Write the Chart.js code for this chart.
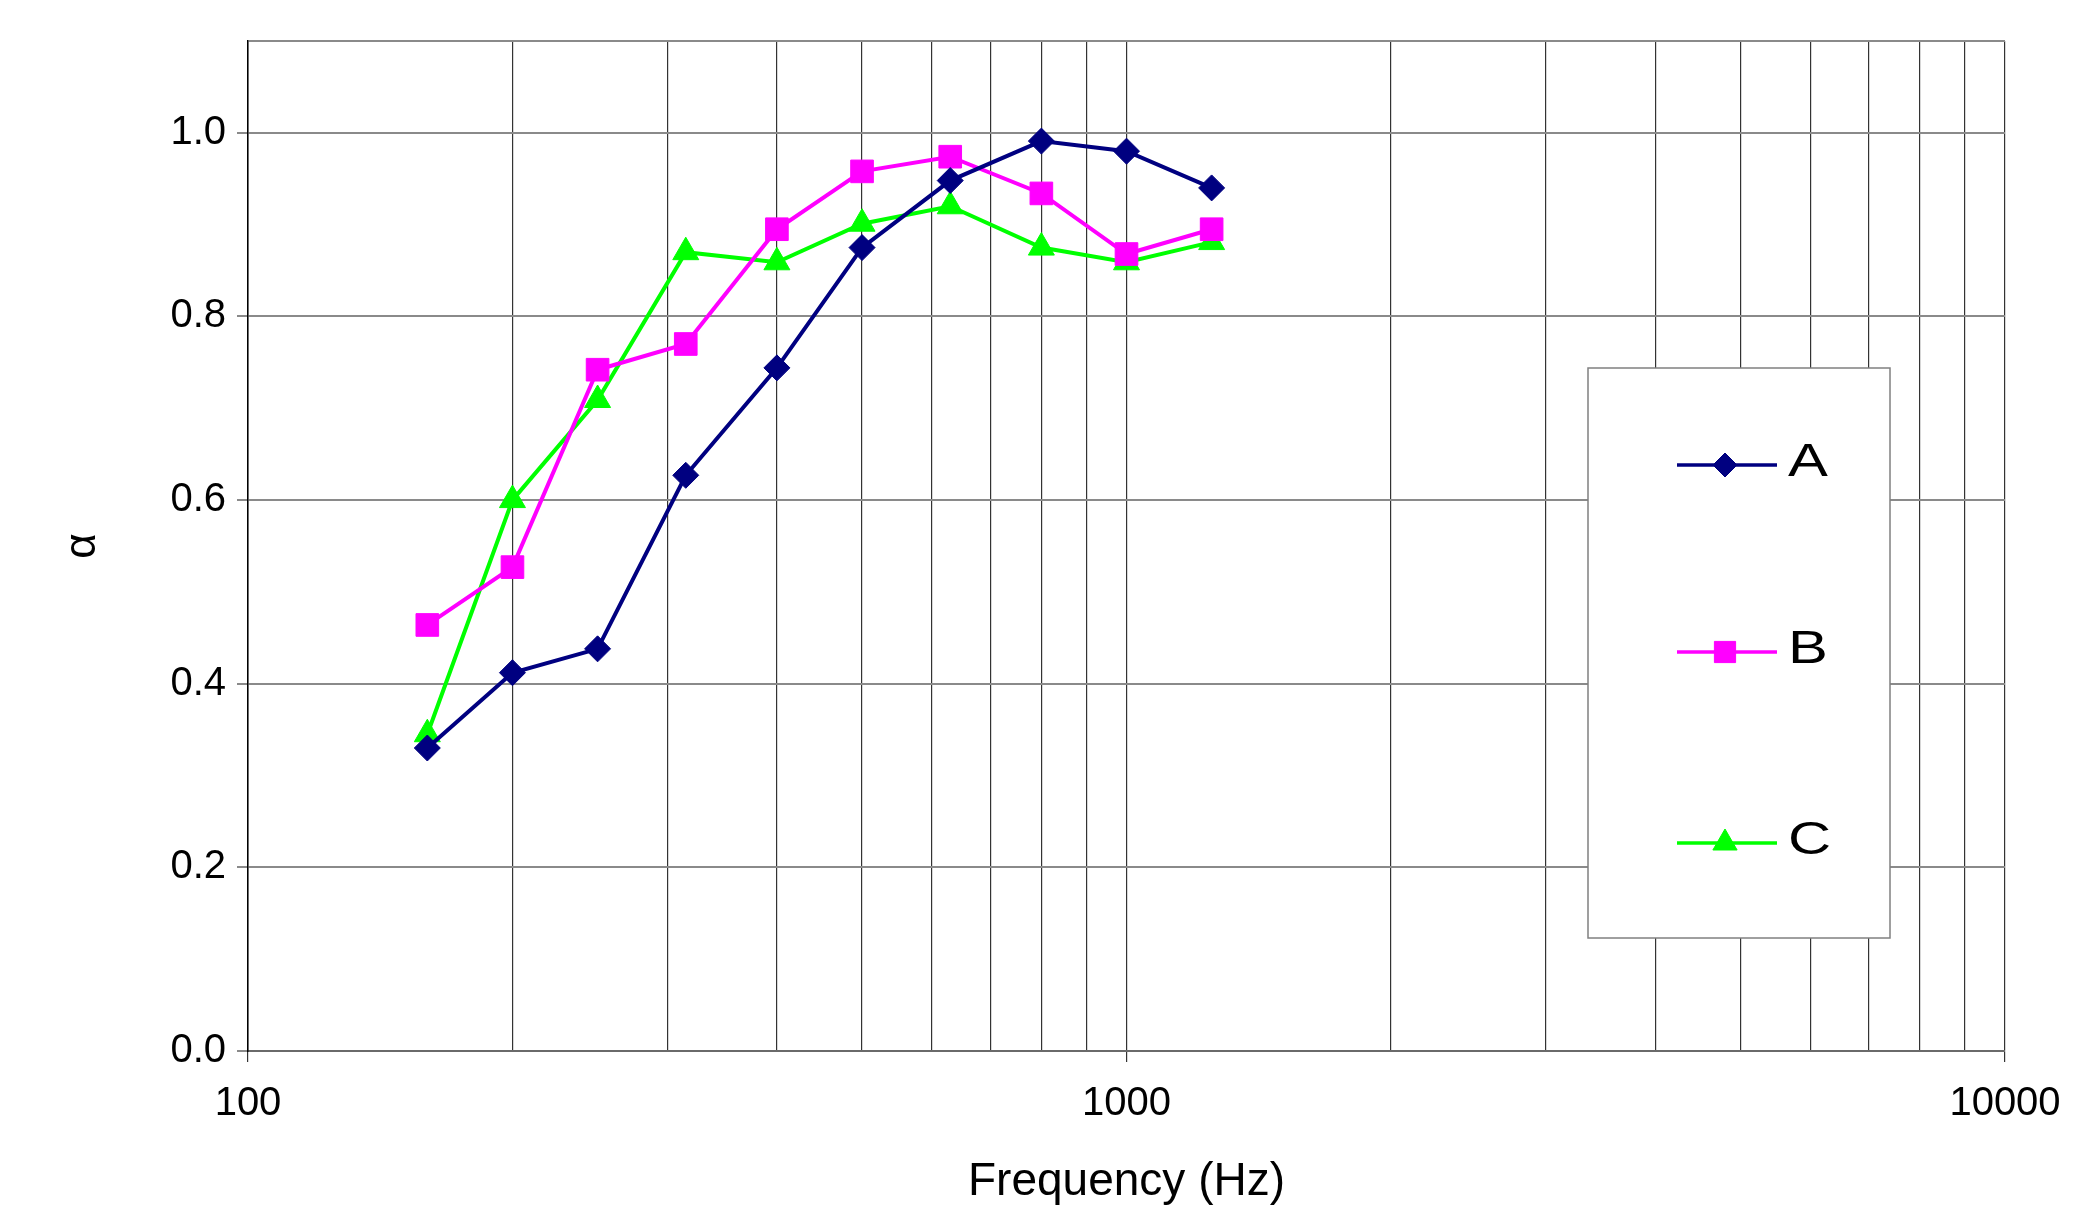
<!DOCTYPE html>
<html>
<head>
<meta charset="utf-8">
<script src="https://cdn.jsdelivr.net/npm/chart.js@4.4.1/dist/chart.umd.min.js"></script>
<style>
  html, body { margin: 0; padding: 0; background: #ffffff; }
  #wrap { width: 2093px; height: 1215px; position: relative; }
</style>
</head>
<body>
<div id="wrap"><canvas id="c" width="2093" height="1215"></canvas></div>
<script>
// ---- data ----
const frequencies = [160, 200, 250, 315, 400, 500, 630, 800, 1000, 1250];
const seriesA = [0.330, 0.412, 0.438, 0.627, 0.744, 0.875, 0.948, 0.991, 0.980, 0.940];
const seriesB = [0.464, 0.527, 0.742, 0.770, 0.895, 0.958, 0.974, 0.934, 0.868, 0.895];
const seriesC = [0.345, 0.600, 0.709, 0.870, 0.859, 0.901, 0.920, 0.875, 0.859, 0.881];
const seriesNames = ['A', 'B', 'C'];
const xGridTicks = [100, 200, 300, 400, 500, 600, 700, 800, 900,
                    1000, 2000, 3000, 4000, 5000, 6000, 7000, 8000, 9000, 10000];
const xTickLabels = [100, 1000, 10000];
const yTickLabels = [0.0, 0.2, 0.4, 0.6, 0.8, 1.0];

const FONT = "'Liberation Sans', Arial, sans-serif";

function toPoints(vals) {
  return frequencies.map((f, i) => ({ x: f, y: vals[i] }));
}

const legendBox = {
  id: 'legendBox',
  afterDraw(chart) {
    const ctx = chart.ctx;
    const x0 = 1588, y0 = 368, w = 302, h = 570;
    ctx.save();
    ctx.fillStyle = '#ffffff';
    ctx.fillRect(x0, y0, w, h);
    ctx.strokeStyle = '#808080';
    ctx.lineWidth = 1.5;
    ctx.strokeRect(x0, y0, w, h);
    const rows = [465, 652, 843];
    chart.data.datasets.forEach((ds, i) => {
      const y = rows[i];
      ctx.strokeStyle = ds.borderColor;
      ctx.lineWidth = 3.5;
      ctx.beginPath();
      ctx.moveTo(1677, y);
      ctx.lineTo(1777, y);
      ctx.stroke();
      ctx.fillStyle = ds.pointBackgroundColor;
      ctx.strokeStyle = ds.pointBorderColor;
      ctx.lineWidth = 1;
      Chart.helpers.drawPoint(ctx, {
        pointStyle: ds.pointStyle,
        radius: ds.pointRadius - 1,
        rotation: 0,
        borderWidth: 1
      }, 1725, y);
      ctx.fillStyle = '#000000';
      ctx.font = '46px ' + FONT;
      ctx.textBaseline = 'middle';
      ctx.textAlign = 'left';
      ctx.save();
      ctx.translate(1788, y - 2);
      ctx.scale(1.3, 1);
      ctx.fillText(ds.label, 0, 0);
      ctx.restore();
    });
    ctx.restore();
  }
};

const ctx = document.getElementById('c').getContext('2d');
const colors = ['#000080', '#FF00FF', '#00FF00'];
const styles = ['rectRot', 'rect', 'triangle'];
const radii = [13, 16, 15];
const allSeries = [seriesA, seriesB, seriesC];

new Chart(ctx, {
  type: 'line',
  data: {
    datasets: allSeries.map((s, i) => ({
      label: seriesNames[i],
      data: toPoints(s),
      borderColor: colors[i],
      backgroundColor: colors[i],
      pointBackgroundColor: colors[i],
      pointBorderColor: colors[i],
      pointBorderWidth: 1,
      pointStyle: styles[i],
      pointRadius: radii[i],
      pointHoverRadius: radii[i],
      borderWidth: 4,
      tension: 0,
      fill: false
    }))
  },
  options: {
    responsive: false,
    animation: false,
    devicePixelRatio: 1,
    layout: { padding: { top: 41, right: 88, bottom: 0, left: 0 } },
    plugins: {
      legend: { display: false },
      tooltip: { enabled: false },
      title: { display: false }
    },
    scales: {
      x: {
        type: 'logarithmic',
        min: 100,
        max: 10000,
        afterBuildTicks(scale) {
          scale.ticks = xGridTicks.map(v => ({ value: v }));
        },
        afterFit(scale) { scale.height = 164; },
        ticks: {
          autoSkip: false,
          maxRotation: 0,
          minRotation: 0,
          padding: 18,
          color: '#000000',
          font: { family: FONT, size: 40 },
          callback(value) {
            return xTickLabels.includes(value) ? String(value) : '';
          }
        },
        grid: {
          color: '#333333',
          lineWidth: 1.2,
          tickLength: 11,
          tickColor(c) {
            return xTickLabels.includes(c.tick && c.tick.value) ? '#333333' : 'rgba(0,0,0,0)';
          }
        },
        border: { display: true, color: '#6a6a6a', width: 2 },
        title: {
          display: true,
          text: 'Frequency (Hz)',
          color: '#000000',
          font: { family: FONT, size: 46 },
          padding: { top: 0, bottom: 5 }
        }
      },
      y: {
        type: 'linear',
        min: 0,
        max: 1.1,
        afterFit(scale) { scale.width = 248; },
        ticks: {
          stepSize: 0.2,
          padding: 11,
          color: '#000000',
          font: { family: FONT, size: 40 },
          callback(value) {
            const hit = yTickLabels.find(t => Math.abs(t - value) < 1e-9);
            return hit === undefined ? '' : hit.toFixed(1);
          }
        },
        grid: {
          color: '#8a8a8a',
          lineWidth: 2,
          tickLength: 11,
          tickColor(c) {
            const v = c.tick ? c.tick.value : -1;
            return yTickLabels.some(t => Math.abs(t - v) < 1e-9) ? '#8a8a8a' : 'rgba(0,0,0,0)';
          }
        },
        border: { display: true, color: '#000000', width: 1.5 },
        title: {
          display: true,
          text: 'α',
          color: '#000000',
          font: { family: FONT, size: 44 },
          padding: { top: 56, bottom: 0 }
        }
      }
    }
  },
  plugins: [legendBox]
});
</script>
</body>
</html>
